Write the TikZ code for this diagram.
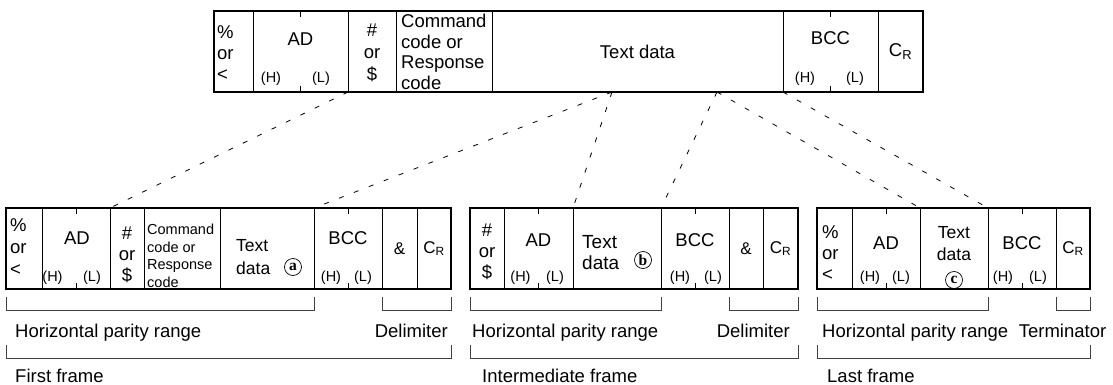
\documentclass[tikz,border=0pt]{standalone}
\usepackage{fontspec}
\setmainfont{Liberation Sans}
\newfontfamily\serifletter{Liberation Serif}
\usetikzlibrary{positioning}

\tikzset{
  field/.style={draw, line width=0.9pt, minimum height=81pt, inner sep=0pt, outer sep=0pt},
  frameline/.style={line width=2pt},
  adtick/.style={line width=0.9pt},
  conn/.style={line width=0.8pt, dash pattern=on 5pt off 11pt},
  rangeline/.style={line width=0.9pt, draw=black!75},
  hl/.style={font=\fontsize{14.5}{16}\selectfont},
  stack/.style={align=left},
  mid/.style={font=\fontsize{17}{20}\selectfont},
  circ/.style={draw, circle, line width=0.7pt, minimum size=17pt, font={\serifletter\bfseries\fontsize{15.5}{15.5}\selectfont}},
}

\begin{document}
\begin{tikzpicture}[x=1pt, y=1pt, inner sep=0pt, font=\fontsize{18.5}{21}\selectfont]
\useasboundingbox (0,0) rectangle (1113,384);

% upper frame
\node[field, minimum width=39pt, anchor=west] (tS) at (214,332.5) {};
\node[field, minimum width=95pt, right=0pt of tS] (tAD) {};
\node[field, minimum width=48pt, right=0pt of tAD] (tH) {};
\node[field, minimum width=96pt, right=0pt of tH] (tCmd) {};
\node[field, minimum width=291pt, right=0pt of tCmd] (tTxt) {Text data};
\node[field, minimum width=95pt, right=0pt of tTxt] (tBCC) {};
\node[field, minimum width=45pt, right=0pt of tBCC] (tCR) {C\textsubscript{R}};
\draw[frameline] (tS.north west) rectangle (tCR.south east);
\draw[adtick] (tAD.north) -- ++(0,-6);
\draw[adtick] (tAD.south) -- ++(0,6);
\draw[adtick] (tBCC.north) -- ++(0,-6);
\draw[adtick] (tBCC.south) -- ++(0,6);

\node[stack, anchor=west] (tSl) at (217,331) {\%\\or\\<};
\node (tADl) at (300.5,345) {AD};
\node[hl] (tADH) at (271,305) {(H)};
\node[hl] (tADL) at (321,305) {(L)};
\node[align=center, font=\fontsize{18.5}{22}\selectfont] (tHl) at (372,331) {\#\\or\\\$};
\node[stack, anchor=west, font=\fontsize{18.5}{20.5}\selectfont] (tCmdl) at (401,332) {Command\\code or\\Response\\code};
\node (tBCCl) at (830.5,346) {BCC};
\node[hl] (tBCCH) at (805,305) {(H)};
\node[hl] (tBCCL) at (855,305) {(L)};

% first frame
\node[field, minimum width=36pt, anchor=west] (fS) at (6,135.5) {};
\node[field, minimum width=68pt, right=0pt of fS] (fAD) {};
\node[field, minimum width=34pt, right=0pt of fAD] (fH) {};
\node[field, minimum width=76pt, right=0pt of fH] (fCmd) {};
\node[field, minimum width=94pt, right=0pt of fCmd] (fTxt) {};
\node[field, minimum width=68pt, right=0pt of fTxt] (fBCC) {};
\node[field, mid, minimum width=35pt, right=0pt of fBCC] (fAmp) {\&};
\node[field, mid, minimum width=34pt, right=0pt of fAmp] (fCR) {C\textsubscript{R}};
\draw[frameline] (fS.north west) rectangle (fCR.south east);
\draw[adtick] (fAD.north) -- ++(0,-6);
\draw[adtick] (fAD.south) -- ++(0,6);
\draw[adtick] (fBCC.north) -- ++(0,-6);
\draw[adtick] (fBCC.south) -- ++(0,6);

\node[stack, anchor=west, font=\fontsize{18.5}{22}\selectfont] (fSl) at (10,137) {\%\\or\\<};
\node (fADl) at (77,146) {AD};
\node[hl] (fADH) at (52.5,106) {(H)};
\node[hl] (fADL) at (92,106) {(L)};
\node[align=center] (fHl) at (127,129) {\#\\or\\\$};
\node[stack, anchor=west, font=\fontsize{14.5}{17.5}\selectfont] (fCmdl) at (147,128) {Command\\code or\\Response\\code};
\node[stack, anchor=west, font=\fontsize{17.5}{23}\selectfont] (fTxtl) at (236,127) {Text\\data};
\node[circ] (fA) at (293,117) {a};
\node (fBCCl) at (348,146) {BCC};
\node[hl] (fBCCH) at (331,106) {(H)};
\node[hl] (fBCCL) at (363,106) {(L)};

% intermediate frame
\node[field, minimum width=34pt, anchor=west] (iH) at (470,135.5) {};
\node[field, minimum width=69pt, right=0pt of iH] (iAD) {};
\node[field, minimum width=88pt, right=0pt of iAD] (iTxt) {};
\node[field, minimum width=68pt, right=0pt of iTxt] (iBCC) {};
\node[field, mid, minimum width=34pt, right=0pt of iBCC] (iAmp) {\&};
\node[field, mid, minimum width=35pt, right=0pt of iAmp] (iCR) {C\textsubscript{R}};
\draw[frameline] (iH.north west) rectangle (iCR.south east);
\draw[adtick] (iAD.north) -- ++(0,-6);
\draw[adtick] (iAD.south) -- ++(0,6);
\draw[adtick] (iBCC.north) -- ++(0,-6);
\draw[adtick] (iBCC.south) -- ++(0,6);

\node[align=center] (iHl) at (487,132) {\#\\or\\\$};
\node (iADl) at (538.5,144) {AD};
\node[hl] (iADH) at (520.5,106) {(H)};
\node[hl] (iADL) at (555,106) {(L)};
\node[stack, anchor=west, font=\fontsize{19}{21}\selectfont] (iTxtl) at (582,131.5) {Text\\data};
\node[circ] (iB) at (643,124) {b};
\node (iBCCl) at (695,144) {BCC};
\node[hl] (iBCCH) at (680,106) {(H)};
\node[hl] (iBCCL) at (713,106) {(L)};

% last frame
\node[field, minimum width=35pt, anchor=west] (lS) at (817,135.5) {};
\node[field, minimum width=68pt, right=0pt of lS] (lAD) {};
\node[field, minimum width=68pt, right=0pt of lAD] (lTxt) {};
\node[field, minimum width=68pt, right=0pt of lTxt] (lBCC) {};
\node[field, mid, minimum width=34pt, right=0pt of lBCC] (lCR) {C\textsubscript{R}};
\draw[frameline] (lS.north west) rectangle (lCR.south east);
\draw[adtick] (lAD.north) -- ++(0,-6);
\draw[adtick] (lAD.south) -- ++(0,6);
\draw[adtick] (lBCC.north) -- ++(0,-6);
\draw[adtick] (lBCC.south) -- ++(0,6);

\node[stack, anchor=west] (lSl) at (822,131) {\%\\or\\<};
\node (lADl) at (886,141) {AD};
\node[hl] (lADH) at (870,106) {(H)};
\node[hl] (lADL) at (901,106) {(L)};
\node[align=center, font=\fontsize{17.5}{22}\selectfont] (lTxtl) at (954,140) {Text\\data};
\node[circ] (lC) at (954,104) {c};
\node (lBCCl) at (1022,141) {BCC};
\node[hl] (lBCCH) at (1003,106) {(H)};
\node[hl] (lBCCL) at (1038,106) {(L)};

% dashed links from the upper frame
\coordinate (tA) at (612,292);
\coordinate (tB) at (717,292);
\draw[conn] (tAD.south east) -- (fAD.north east);
\draw[conn] (tA) -- (fTxt.north east);
\draw[conn] (tA) -- (iTxt.north west);
\draw[conn] (tB) -- (iTxt.north east);
\draw[conn] (tB) -- (lTxt.north west);
\draw[conn] (tBCC.south west) -- (lTxt.north east);

% ranges
\draw[rangeline] ([yshift=-8pt]fS.south west) |- ([yshift=-21pt]fTxt.south east) -- ++(0,13);
\draw[rangeline] ([yshift=-8pt]fAmp.south west) |- ([yshift=-21pt]fCR.south east) -- ++(0,13);
\draw[rangeline] ([yshift=-56pt]fS.south west) |- ([yshift=-69pt]fCR.south east) -- ++(0,13);
\draw[rangeline] ([yshift=-8pt]iH.south west) |- ([yshift=-21pt]iTxt.south east) -- ++(0,13);
\draw[rangeline] ([yshift=-8pt]iAmp.south west) |- ([yshift=-21pt]iCR.south east) -- ++(0,13);
\draw[rangeline] ([yshift=-56pt]iH.south west) |- ([yshift=-69pt]iCR.south east) -- ++(0,13);
\draw[rangeline] ([yshift=-8pt]lS.south west) |- ([yshift=-21pt]lTxt.south east) -- ++(0,13);
\draw[rangeline] ([yshift=-8pt]lCR.south west) |- ([yshift=-21pt]lCR.south east) -- ++(0,13);
\draw[rangeline] ([yshift=-56pt]lS.south west) |- ([yshift=-69pt]lCR.south east) -- ++(0,13);

\node[anchor=base west] (fHp) at (15,47) {Horizontal parity range};
\node[anchor=base east] (fDel) at (448,47) {Delimiter};
\node[anchor=base west] (fName) at (15,2) {First frame};
\node[anchor=base west] (iHp) at (472,47) {Horizontal parity range};
\node[anchor=base east] (iDel) at (790,47) {Delimiter};
\node[anchor=base west] (iName) at (482,2) {Intermediate frame};
\node[anchor=base west] (lHp) at (822,47) {Horizontal parity range};
\node[anchor=base] (lTerm) at (1062.5,47) {Terminator};
\node[anchor=base west] (lName) at (827,2) {Last frame};
\end{tikzpicture}
\end{document}
